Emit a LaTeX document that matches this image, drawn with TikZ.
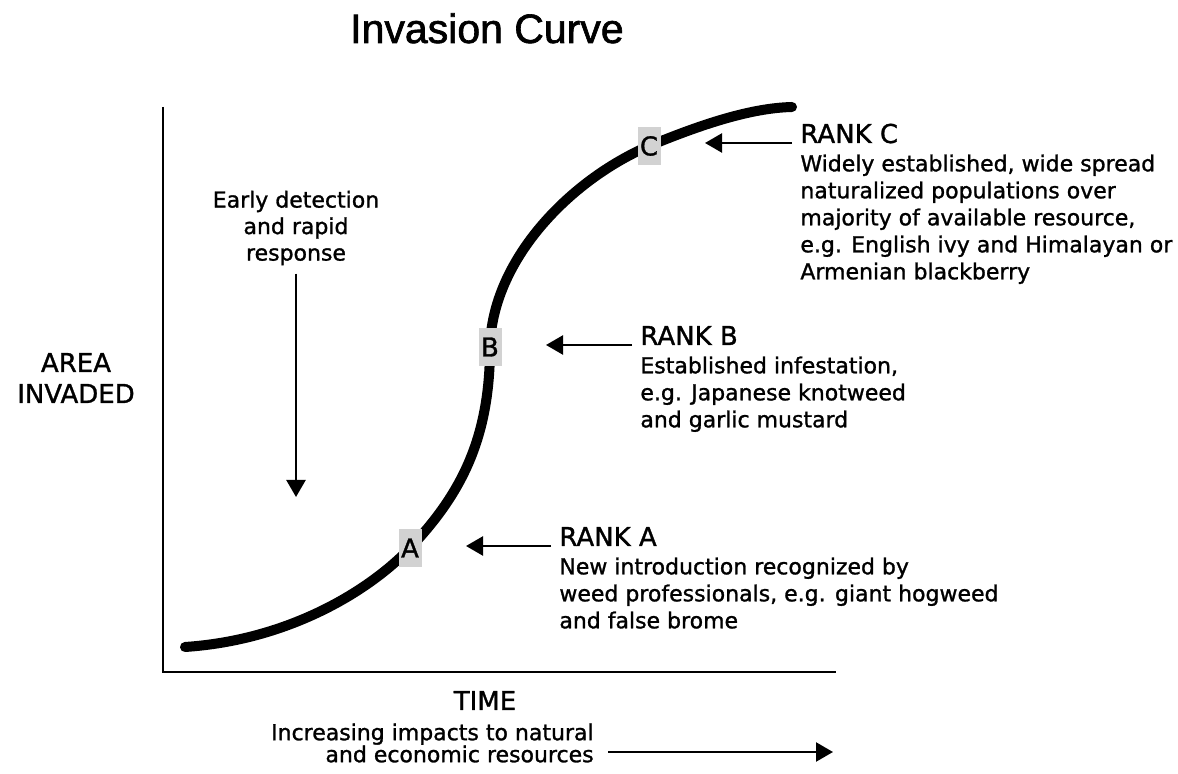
\documentclass[tikz,border=0pt]{standalone}
\usepackage{fontspec}
\setmainfont{DejaVu Sans}[BoldFont={DejaVu Sans},BoldFeatures={FakeBold=1.2}]
\newfontfamily\titlefont{Liberation Sans}[FakeBold=1.6]
\usetikzlibrary{arrows.meta,positioning}

\begin{document}
\begin{tikzpicture}[x=0.5pt,y=-0.5pt,
	axisline/.style={line width=1pt},
	invcurve/.style={line width=5pt,line cap=round},
	pointer/.style={line width=1.2pt,-{Triangle[length=8.5pt,width=9.5pt]}},
	rankpointer/.style={pointer,shorten >=28pt},
	letterbox/.style={fill=gray!35,inner sep=0pt,minimum width=11.5pt,minimum height=19pt,font=\bfseries\fontsize{13}{13}\selectfont},
	heading/.style={inner sep=0pt,font=\bfseries\fontsize{13}{15.5}\selectfont},
	blurb/.style={inner sep=0pt,align=left,font=\bfseries\fontsize{11}{13.5}\selectfont}]
				\useasboundingbox (0,0) rectangle (1178,774);
				\node[anchor=base,inner sep=0pt,font=\titlefont\fontsize{20.5}{24}\selectfont] (title) at (487,43) {Invasion Curve};
				\coordinate (ytop) at (163,107);
				\coordinate (origin) at (163,672);
				\coordinate (xend) at (836,672);
				\draw[axisline] (ytop) -- (origin) -- (xend);
				\draw[invcurve] (185,647) .. controls (290,640) and (370,590) .. (410,548) node[letterbox] (A) {A}
					.. controls (460,495) and (490,440) .. (490,347) node[letterbox] (B) {B}
					.. controls (492,260) and (570,180) .. (649,146) node[letterbox] (C) {C}
					.. controls (700,125) and (750,108) .. (792,107);
				\node[heading,anchor=base west] (hC) at (800,143) {RANK C};
				\node[blurb,below=5.6pt of hC.base west,anchor=north west] (dC) {Widely established, wide spread\\naturalized populations over\\majority of available resource,\\e.g. English ivy and Himalayan or\\Armenian blackberry};
				\node[heading,anchor=base west] (hB) at (640,345) {RANK B};
				\node[blurb,below=5.6pt of hB.base west,anchor=north west] (dB) {Established infestation,\\e.g. Japanese knotweed\\and garlic mustard};
				\node[heading,anchor=base west] (hA) at (559,546) {RANK A};
				\node[blurb,below=5.6pt of hA.base west,anchor=north west] (dA) {New introduction recognized by\\weed professionals, e.g. giant hogweed\\and false brome};
				\draw[rankpointer] ([xshift=-4pt]hC.base west) -- (hC.base west -| C);
				\draw[rankpointer] ([xshift=-4pt]hB.base west) -- (hB.base west -| B);
				\draw[rankpointer] ([xshift=-4pt]hA.base west) -- (hA.base west -| A);
				\node[blurb,align=center,font=\bfseries\fontsize{11}{13.25}\selectfont] (edrr) at (296,228) {Early detection\\and rapid\\response};
				\coordinate (edtip) at (296,497);
				\draw[pointer,shorten <=4pt] (edrr.south) -- (edtip);
				\node[heading,align=center] (area) at (76,378) {AREA\\INVADED};
				\node[heading,anchor=base] (time) at (485,710) {TIME};
				\node[blurb,align=right,anchor=east,font=\bfseries\fontsize{11}{11}\selectfont] (impact) at (594,743) {Increasing impacts to natural\\and economic resources};
				\coordinate (impacttip) at (833,752);
				\draw[pointer,shorten <=7pt] (impact.east |- impacttip) -- (impacttip);
\end{tikzpicture}
\end{document}
